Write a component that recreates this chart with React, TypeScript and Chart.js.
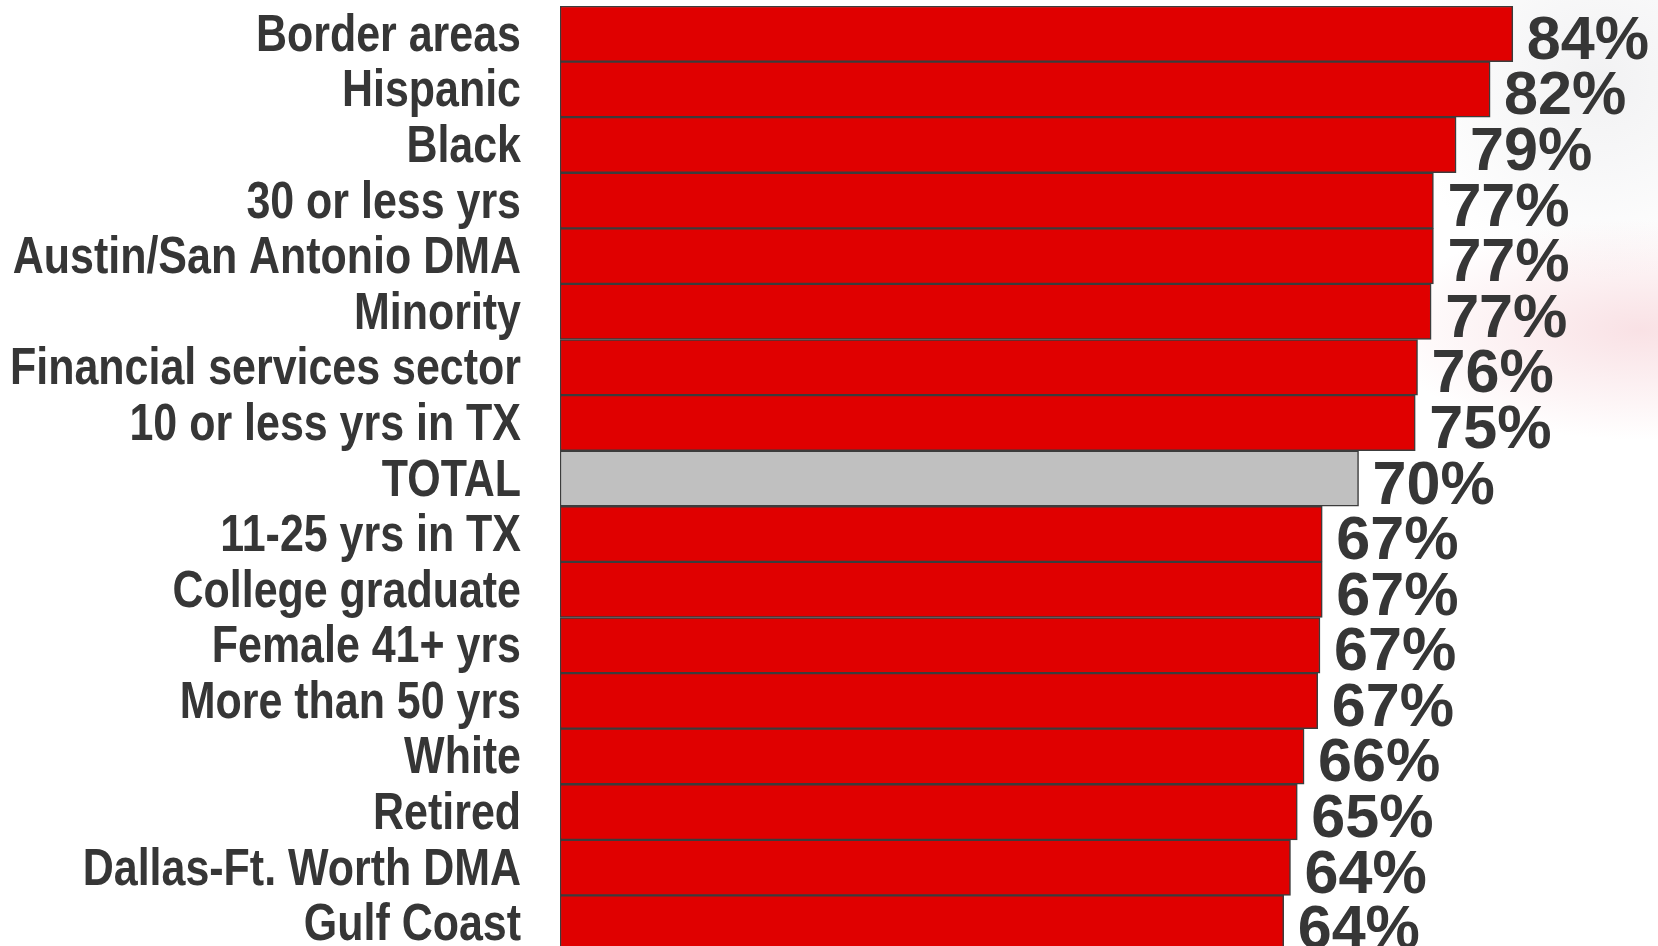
import React, { useEffect, useRef } from "react";
import { Chart, registerables } from "chart.js";

Chart.register(...registerables);

const categories = [
  "Border areas",
  "Hispanic",
  "Black",
  "30 or less yrs",
  "Austin/San Antonio DMA",
  "Minority",
  "Financial services sector",
  "10 or less yrs in TX",
  "TOTAL",
  "11-25 yrs in TX",
  "College graduate",
  "Female 41+ yrs",
  "More than 50 yrs",
  "White",
  "Retired",
  "Dallas-Ft. Worth DMA",
  "Gulf Coast",
];

const values = [84, 82, 79, 77, 77, 76.8, 75.6, 75.4, 70.4, 67.2, 67.2, 67.0, 66.8, 65.6, 65.0, 64.4, 63.8];

const valueLabels = [
  "84%", "82%", "79%", "77%", "77%", "77%", "76%", "75%", "70%",
  "67%", "67%", "67%", "67%", "66%", "65%", "64%", "64%",
];

const highlightCategory = "TOTAL";

const TEXT_COLOR = "#363636";

// Condensed bold category labels (narrow face emulated by horizontal scaling)
const categoryLabelPlugin = {
  id: "categoryLabels",
  afterDraw(chart: any) {
    const ctx = chart.ctx;
    const yScale = chart.scales.y;
    const right = chart.chartArea.left - 39;
    ctx.save();
    ctx.font = 'bold 52px "Liberation Sans", Arial, sans-serif';
    ctx.fillStyle = TEXT_COLOR;
    ctx.textAlign = "right";
    ctx.textBaseline = "alphabetic";
    categories.forEach((label, i) => {
      const y = yScale.getPixelForValue(i);
      ctx.save();
      ctx.translate(right, y + 17);
      ctx.scale(0.826, 1);
      ctx.fillText(label, 0, 0);
      ctx.restore();
    });
    ctx.restore();
  },
};

const valueLabelPlugin = {
  id: "valueLabels",
  afterDatasetsDraw(chart: any) {
    const ctx = chart.ctx;
    const meta = chart.getDatasetMeta(0);
    ctx.save();
    ctx.font = 'bold 62px "Liberation Sans", Arial, sans-serif';
    ctx.fillStyle = TEXT_COLOR;
    ctx.textAlign = "left";
    ctx.textBaseline = "alphabetic";
    meta.data.forEach((bar: any, i: number) => {
      ctx.save();
      ctx.translate(bar.x + 14, bar.y + 25);
      ctx.scale(0.985, 1);
      ctx.fillText(valueLabels[i], 0, 0);
      ctx.restore();
    });
    ctx.restore();
  },
};

export default function App() {
  const canvasRef = useRef<HTMLCanvasElement | null>(null);

  useEffect(() => {
    if (!canvasRef.current) return;
    const chart = new Chart(canvasRef.current, {
      type: "bar",
      data: {
        labels: categories,
        datasets: [
          {
            data: values,
            backgroundColor: categories.map((c) => (c === highlightCategory ? "#C0C0C0" : "#E00000")),
            borderColor: "#3C3C3C",
            borderWidth: 1.5,
            borderSkipped: false,
            barPercentage: 1,
            categoryPercentage: 1,
          },
        ],
      },
      options: {
        indexAxis: "y",
        animation: false,
        responsive: false,
        maintainAspectRatio: false,
        layout: { padding: { top: 6, left: 0, right: 0, bottom: 0 } },
        plugins: {
          legend: { display: false },
          tooltip: { enabled: false },
          title: { display: false },
        },
        scales: {
          x: {
            display: false,
            min: 0,
            max: 96.8,
          },
          y: {
            grid: { display: false, drawTicks: false },
            border: { display: false },
            ticks: { display: false, autoSkip: false },
            afterFit: (scale: any) => {
              scale.width = 560;
              scale.paddingTop = 0;
              scale.paddingBottom = 0;
            },
          },
        },
      },
      plugins: [valueLabelPlugin, categoryLabelPlugin],
    });
    return () => chart.destroy();
  }, []);

  return (
    <div
      style={{
        position: "fixed",
        left: 0,
        top: 0,
        width: 1658,
        height: 946,
        overflow: "hidden",
        background:
          "radial-gradient(ellipse 260px 110px at 1640px 330px, rgba(238,170,180,0.35), rgba(255,255,255,0) 100%), radial-gradient(ellipse 200px 200px at 1600px 80px, rgba(225,225,228,0.45), rgba(255,255,255,0) 100%), #ffffff",
      }}
    >
      <canvas ref={canvasRef} width={1658} height={951} style={{ display: "block" }} />
    </div>
  );
}
